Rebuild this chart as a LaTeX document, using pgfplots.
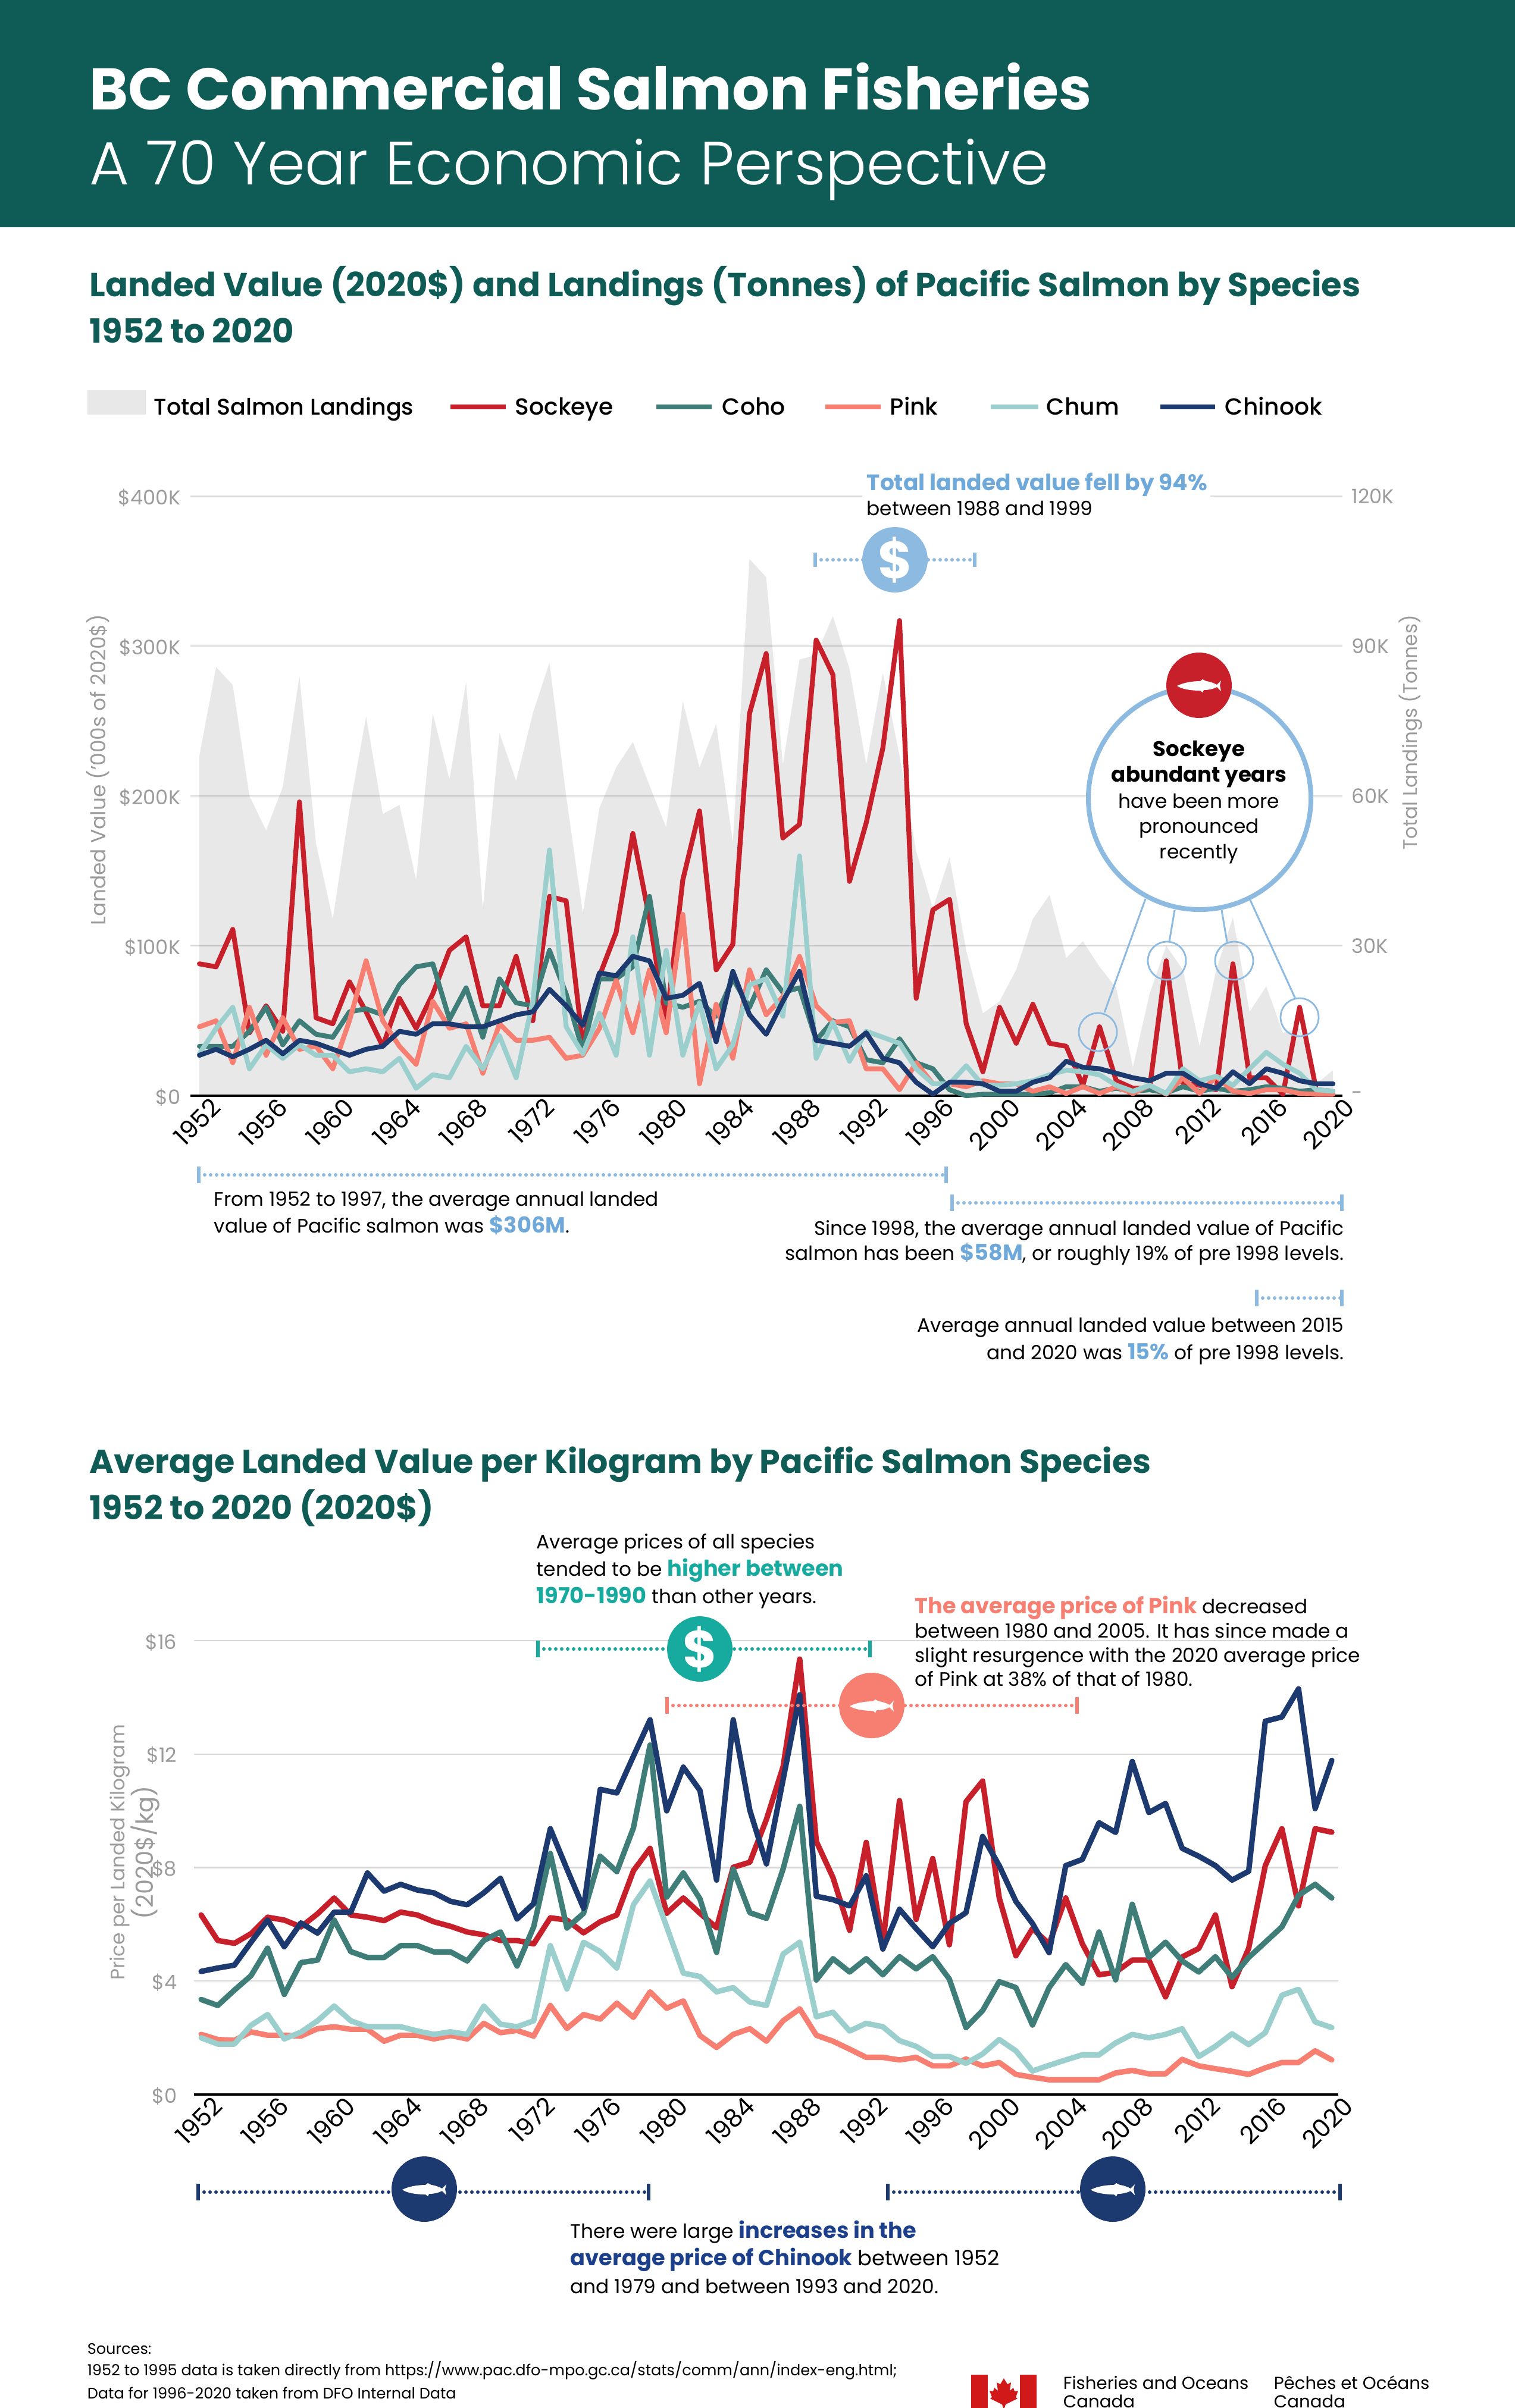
\documentclass[border=0pt]{standalone}
\usepackage{fontspec}
\usepackage{xcolor}
\usepackage{pgfplots}
\usepackage{pgfplotstable}
\pgfplotsset{compat=1.18}
\setmainfont{Poppins}
\newfontfamily\lightf{Poppins Light}
\newfontfamily\medf{Poppins Medium}
\definecolor{hdr}{HTML}{0F5C57}
\definecolor{sock}{HTML}{C8202A}
\definecolor{coho}{HTML}{3F7D78}
\definecolor{pink}{HTML}{F67F72}
\definecolor{chum}{HTML}{9ACFCE}
\definecolor{chin}{HTML}{1C3A70}
\definecolor{cblue}{HTML}{8DBAE0}
\definecolor{tblue}{HTML}{6FA9DA}
\definecolor{cteal}{HTML}{17AA9E}
\definecolor{tgray}{HTML}{9B9B9B}
\definecolor{ngray}{HTML}{1B3F8B}
\pgfplotstableread{
year sock coho pink chum chin total
1952 88 33 46 28 27 68100
1953 86 33 50 45 31 85800
1954 111 33 22 59 26 82200
1955 42 43 59 18 31 60000
1956 60 59 27 34 37 53100
1957 43 34 52 25 28 61800
1958 196 50 31 34 37 84000
1959 52 41 33 27 35 50400
1960 48 39 18 27 31 35400
1961 76 56 50 16 27 57300
1962 56 58 90 18 31 75900
1963 33 54 50 16 33 56400
1964 65 74 33 25 43 58200
1965 45 86 21 5 41 43200
1966 68 88 63 14 48 76500
1967 97 51 45 12 48 63300
1968 106 72 48 33 46 82800
1969 60 39 15 18 46 37500
1970 60 78 48 40 50 72600
1971 93 62 37 12 54 63000
1972 50 60 37 63 56 76500
1973 133 97 39 164 71 86700
1974 130 68 25 46 60 60000
1975 34 30 27 28 47 36600
1976 80 78 45 55 82 57600
1977 109 78 77 27 80 65700
1978 175 86 42 106 93 70800
1979 118 133 84 27 90 62100
1980 48 62 42 97 65 53700
1981 144 59 121 27 67 78900
1982 190 63 8 62 75 65700
1983 84 53 61 18 36 74400
1984 101 78 25 34 83 50700
1985 255 59 84 74 54 107400
1986 295 84 54 78 41 103800
1987 172 69 66 53 63 66300
1988 181 72 93 160 83 87300
1989 304 37 60 25 37 88200
1990 281 50 49 49 35 96000
1991 143 46 50 23 33 85500
1992 182 24 18 43 42 66300
1993 232 22 18 39 25 84600
1994 317 38 4 35 22 68100
1995 65 22 22 18 9 48900
1996 124 18 8 8 1 37500
1997 131 4 8 8 9 47700
1998 48 0 6 20 9 29100
1999 16 1 10 7 8 16500
2000 59 1 8 7 3 18900
2001 35 1 8 8 3 25200
2002 61 1 3 10 9 35400
2003 35 2 6 14 12 40200
2004 33 6 1.5 17 23 27600
2005 7 6 6 16 19 30900
2006 46 3 1.5 14 18 25800
2007 10 5 6 7 15 21600
2008 5 3 1.5 3 12 5700
2009 5 4 7 7 10 20400
2010 90 2 1 1.5 15 30000
2011 8 6 12 18 15 25200
2012 7 3 1.5 10 8 9900
2013 4 5 13 13 5 25200
2014 88 3 3 7 16 35700
2015 12 4 1.5 18 8 16800
2016 12 6 4 29 18 21900
2017 1 5 4 21 15 12600
2018 59 3 1.5 15 10 13500
2019 4 4 1 4 8 2400
2020 1 3 1 3 8 5100
}\tableA
\pgfplotstableread{
year sock coho pink chum chin
1952 6.33 3.35 2.12 2.00 4.34
1953 5.43 3.14 1.94 1.78 4.46
1954 5.33 3.68 1.91 1.78 4.56
1955 5.67 4.19 2.21 2.44 5.37
1956 6.25 5.16 2.09 2.82 6.15
1957 6.15 3.53 2.09 1.96 5.21
1958 5.91 4.65 2.06 2.20 6.05
1959 6.37 4.74 2.32 2.60 5.69
1960 6.93 6.15 2.39 3.12 6.43
1961 6.33 5.04 2.30 2.60 6.43
1962 6.25 4.83 2.30 2.39 7.81
1963 6.13 4.83 1.88 2.39 7.17
1964 6.43 5.25 2.09 2.39 7.41
1965 6.33 5.25 2.09 2.24 7.21
1966 6.09 5.03 1.96 2.12 7.11
1967 5.93 5.03 2.08 2.21 6.81
1968 5.73 4.71 1.96 2.12 6.69
1969 5.63 5.43 2.51 3.12 7.11
1970 5.43 5.73 2.18 2.48 7.62
1971 5.43 4.53 2.26 2.39 6.19
1972 5.31 5.91 2.06 2.60 6.73
1973 6.23 8.50 3.14 5.25 9.37
1974 6.15 5.87 2.33 3.72 7.95
1975 5.70 6.39 2.82 5.37 6.57
1976 6.09 8.40 2.66 5.04 10.76
1977 6.33 7.86 3.22 4.46 10.63
1978 7.89 9.40 2.72 6.69 11.93
1979 8.68 12.32 3.62 7.53 13.21
1980 6.39 6.96 3.04 5.91 10.00
1981 6.93 7.81 3.30 4.28 11.54
1982 6.39 6.90 2.08 4.16 10.72
1983 5.88 5.01 1.66 3.62 7.56
1984 8.01 7.95 2.12 3.77 13.21
1985 8.19 6.41 2.32 3.26 10.02
1986 9.70 6.21 1.88 3.14 8.13
1987 11.56 7.95 2.60 4.95 11.10
1988 15.35 10.16 3.02 5.37 14.09
1989 8.92 4.04 2.09 2.74 6.99
1990 7.65 4.79 1.88 2.90 6.87
1991 5.79 4.32 1.60 2.24 6.65
1992 8.89 4.79 1.31 2.51 7.71
1993 5.31 4.22 1.31 2.39 5.13
1994 10.36 4.86 1.22 1.90 6.53
1995 6.17 4.43 1.31 1.70 5.85
1996 8.32 4.86 1.01 1.34 5.21
1997 5.28 4.07 1.01 1.34 6.03
1998 10.32 2.36 1.25 1.10 6.41
1999 11.05 2.96 1.01 1.43 9.10
2000 6.93 3.98 1.13 1.94 8.07
2001 4.89 3.77 0.71 1.54 6.81
2002 5.85 2.45 0.61 0.83 6.03
2003 5.31 3.77 0.52 1.03 5.00
2004 6.93 4.58 0.52 1.22 8.07
2005 5.31 3.92 0.52 1.40 8.29
2006 4.22 5.73 0.52 1.40 9.58
2007 4.31 4.04 0.76 1.82 9.24
2008 4.74 6.71 0.85 2.12 11.74
2009 4.74 4.83 0.73 2.00 9.94
2010 3.44 5.37 0.73 2.12 10.26
2011 4.85 4.71 1.24 2.32 8.68
2012 5.15 4.32 1.01 1.34 8.40
2013 6.33 4.86 0.91 1.70 8.07
2014 3.80 4.13 0.82 2.14 7.56
2015 5.15 4.83 0.71 1.76 7.87
2016 8.07 5.37 0.94 2.18 13.16
2017 9.37 5.91 1.13 3.50 13.31
2018 6.65 7.02 1.13 3.71 14.30
2019 9.37 7.41 1.54 2.56 10.08
2020 9.25 6.93 1.22 2.36 11.78
}\tableB
\pgfplotsset{
 base/.style={scale only axis, clip=false, tick style={draw=none},
   major tick length=0pt, scaled y ticks=false, every axis plot/.append style={no markers}},
 yrs/.style={xtick={1952,1956,...,2020},
   xticklabels={1952,1956,1960,1964,1968,1972,1976,1980,1984,1988,1992,1996,2000,2004,2008,2012,2016,2020},
   xticklabel style={font=\fontsize{10.4}{12}\selectfont, rotate=45, anchor=north east, inner sep=0pt, xshift=3pt, yshift=-3pt},
   x axis line style={black,line width=0.85pt},
   axis x line*=bottom, axis y line*=left, y axis line style={draw=none},
   yticklabel style={font=\fontsize{8.4}{10}\selectfont, text=tgray, inner sep=0pt, anchor=east, xshift=-4pt, yshift=-0.6pt}},
 ln/.style={line width=#1, line join=round, line cap=round},
}
\newcommand\fish[3]{\begin{scope}[shift={(#1,#2)}]\fill[#3]
 (-37,1) .. controls (-25,-5) and (-10,-7) .. (2,-7) -- (6,-10) -- (12,-7) .. controls (20,-6) and (26,-3) .. (30,-1) -- (37,-8) -- (35,0) -- (37,10) -- (30,3) .. controls (22,7) and (14,8) .. (8,8) -- (6,12) -- (2,9) .. controls (-15,9) and (-30,6) .. (-37,1) -- cycle;\end{scope}}
\newcommand\br[5]{\draw[#5,line width=1.5pt,line cap=round,dash pattern=on 0pt off 2.5pt] (#1,#3) -- (#2,#3);
 \draw[#5,line width=1.6pt] (#1,#3-#4) -- (#1,#3+#4); \draw[#5,line width=1.6pt] (#2,#3-#4) -- (#2,#3+#4);}
\newcommand\tl[3]{\node[anchor=base west,inner sep=0pt] at (#1,#2) {\bodyf #3};}
\newcommand\tr[3]{\node[anchor=base east,inner sep=0pt] at (#1,#2) {\bodyf #3};}
\newcommand\bodyf{\fontsize{8.2}{10}\selectfont}
\newcommand\bb[2]{{\fontsize{9.2}{10}\selectfont\bfseries\color{#1}#2}}
\begin{document}
\begin{tikzpicture}
\path[use as bounding box] (0,0) rectangle (636.5pt,-1012pt);
\begin{scope}[x=0.25pt,y=-0.25pt]
\fill[hdr] (0,0) rectangle (2546,382);
\node[anchor=base west,inner sep=0pt,white] at (150,184) {\fontsize{24.7}{28}\selectfont\bfseries BC Commercial Salmon Fisheries};
\node[anchor=base west,inner sep=0pt,white] at (150,310) {\fontsize{25.6}{28}\selectfont\lightf A 70 Year Economic Perspective};
\node[anchor=base west,inner sep=0pt,hdr] at (150,498) {\fontsize{14}{16}\selectfont\bfseries Landed Value (2020\$) and Landings (Tonnes) of Pacific Salmon by Species};
\node[anchor=base west,inner sep=0pt,hdr] at (150,576) {\fontsize{14}{16}\selectfont\bfseries 1952 to 2020};
\node[anchor=base west,inner sep=0pt,hdr] at (150,2476) {\fontsize{13.9}{16}\selectfont\bfseries Average Landed Value per Kilogram by Pacific Salmon Species};
\node[anchor=base west,inner sep=0pt,hdr] at (150,2554) {\fontsize{13.9}{16}\selectfont\bfseries 1952 to 2020 (2020\$)};
% legend
\fill[black,opacity=0.09] (147,656) rectangle (245,697);
\foreach \a/\b/\c in {757/850/sock,1103/1196/coho,1387/1480/pink,1665/1745/chum,1950/2042/chin}
  \draw[\c,line width=2pt] (\a,684) -- (\b,684);
\foreach \a/\t in {865/Sockeye,1213/Coho,1495/Pink,1758/Chum,2058/Chinook}
  \node[anchor=base west,inner sep=0pt] at (\a,697) {\fontsize{9.8}{12}\selectfont\medf \t};
\node[anchor=base west,inner sep=0pt] at (258,697) {\fontsize{9.5}{12}\selectfont\medf Total Salmon Landings};
\end{scope}
% chart 1: area with right axis
\begin{axis}[base, at={(80pt,-460.5pt)}, anchor=south west, width=484pt, height=252pt,
  xmin=1951.46, xmax=2020.57, ymin=0, ymax=120000, hide x axis,
  axis y line*=right, y axis line style={draw=none},
  ytick={0,30000,60000,90000,120000}, yticklabels={-,30K,60K,90K,120K},
  yticklabel style={font=\fontsize{8.4}{10}\selectfont, text=tgray, inner sep=0pt, anchor=west, xshift=3.75pt},
  ymajorgrids, grid style={draw=black!15, line width=0.6pt}]
\addplot[fill=black, fill opacity=0.09, draw=none] table[x=year,y=total]{\tableA} \closedcycle;
\end{axis}
\begin{scope}[x=0.25pt,y=-0.25pt]
\fill[white] (1449,826) rectangle (2034,842);
\end{scope}
\begin{axis}[base, yrs, at={(80pt,-460.5pt)}, anchor=south west, width=484pt, height=252pt,
  xmin=1951.46, xmax=2020.57, ymin=0, ymax=400,
  ytick={0,100,200,300,400}, yticklabels={\$0,\$100K,\$200K,\$300K,\$400K}]
\addplot[sock,ln=2.05pt] table[x=year,y=sock]{\tableA};
\addplot[coho,ln=2.05pt] table[x=year,y=coho]{\tableA};
\addplot[pink,ln=2.05pt] table[x=year,y=pink]{\tableA};
\addplot[chum,ln=2.05pt] table[x=year,y=chum]{\tableA};
\addplot[chin,ln=2.05pt] table[x=year,y=chin]{\tableA};
\end{axis}
\begin{scope}[x=0.25pt,y=-0.25pt]
\node[rotate=90,text=tgray,inner sep=0pt] at (165,1294) {\fontsize{8.6}{10}\selectfont Landed Value ('000s of 2020\$)};
\node[rotate=90,text=tgray,inner sep=0pt] at (2371,1231) {\fontsize{8.2}{10}\selectfont Total Landings (Tonnes)};
\node[anchor=base west,inner sep=0pt,text=tblue] at (1456,824) {\fontsize{9.4}{10}\selectfont\bfseries Total landed value fell by 94\%};
\tl{1456}{866}{between 1988 and 1999}
\br{1370}{1638}{941}{12}{cblue}
\fill[cblue] (1504,941) circle (55);
\node[white,inner sep=0pt] at (1504,941) {\fontsize{22}{24}\selectfont\bfseries \$};
% callout
\draw[cblue,line width=0.75pt] (1925,1511) -- (1856,1702) (1974,1530) -- (1965,1583) (2053,1530) -- (2062,1583) (2101,1513) -- (2177,1679);
\foreach \a/\b in {1845/1735,1961/1615,2074/1615,2184/1710} \draw[cblue,line width=0.7pt] (\a,\b) circle (32);
\draw[cblue,fill=white,line width=2pt] (2016,1342) circle (187);
\fill[sock] (2015,1152) circle (55);
\fish{2015}{1152}{white}
\node[anchor=base,inner sep=0pt] at (2015,1271) {\fontsize{8.9}{10}\selectfont\bfseries Sockeye};
\node[anchor=base,inner sep=0pt] at (2015,1314) {\fontsize{8.9}{10}\selectfont\bfseries abundant years};
\node[anchor=base,inner sep=0pt] at (2015,1358) {\bodyf have been more};
\node[anchor=base,inner sep=0pt] at (2015,1400) {\bodyf pronounced};
\node[anchor=base,inner sep=0pt] at (2015,1443) {\bodyf recently};
% below chart 1
\br{334}{1590}{1975}{14}{cblue}
\br{1600}{2255}{2022}{14}{cblue}
\br{2112}{2255}{2182}{14}{cblue}
\tl{359}{2027}{From 1952 to 1997, the average annual landed}
\tl{359}{2072}{value of Pacific salmon was \bb{tblue}{\$306M}.}
\tr{2259}{2076}{Since 1998, the average annual landed value of Pacific}
\tr{2259}{2118}{salmon has been \bb{tblue}{\$58M}, or roughly 19\% of pre 1998 levels.}
\tr{2259}{2239}{Average annual landed value between 2015}
\tr{2259}{2285}{and 2020 was \bb{tblue}{15\%} of pre 1998 levels.}
\end{scope}
% chart 2
\begin{axis}[base, yrs, at={(81.5pt,-880.25pt)}, anchor=south west, width=480.75pt, height=190.75pt,
  xmin=1951.57, xmax=2020.39, ymin=0, ymax=16,
  ymajorgrids, grid style={draw=black!15, line width=0.6pt},
  ytick={0,4,8,12,16}, yticklabels={\$0,\$4,\$8,\$12,\$16},
  yticklabel style={xshift=-3pt}]
\addplot[sock,ln=2.3pt] table[x=year,y=sock]{\tableB};
\addplot[coho,ln=2.3pt] table[x=year,y=coho]{\tableB};
\addplot[pink,ln=2.3pt] table[x=year,y=pink]{\tableB};
\addplot[chum,ln=2.3pt] table[x=year,y=chum]{\tableB};
\addplot[chin,ln=2.3pt] table[x=year,y=chin]{\tableB};
\end{axis}
\begin{scope}[x=0.25pt,y=-0.25pt]
\node[rotate=90,text=tgray,inner sep=0pt,align=center] at (226,3114) {\fontsize{8.2}{10.5}\selectfont Price per Landed Kilogram\\(2020\$/kg)};
\tl{901}{2603}{Average prices of all species}
\tl{901}{2649}{tended to be \bb{cteal}{higher between}}
\tl{901}{2695}{\bb{cteal}{1970-1990} than other years.}
\br{904}{1462}{2772}{14}{cteal}
\fill[cteal] (1176,2772) circle (55);
\node[white,inner sep=0pt] at (1176,2772) {\fontsize{22}{24}\selectfont\bfseries \$};
\br{1121}{1810}{2867}{14}{pink}
\fill[pink] (1465,2867) circle (55);
\fish{1465}{2867}{white}
\tl{1537}{2712}{\bb{pink}{The average price of Pink} decreased}
\tl{1537}{2753}{between 1980 and 2005. It has since made a}
\tl{1537}{2794}{slight resurgence with the 2020 average price}
\tl{1537}{2834}{of Pink at 38\% of that of 1980.}
\br{333}{1090}{3685}{14}{chin}
\br{1492}{2252}{3685}{14}{chin}
\fill[chin] (713,3680) circle (55);
\fish{713}{3680}{white}
\fill[chin] (1870,3680) circle (55);
\fish{1870}{3680}{white}
\tl{958}{3762}{There were large \bb{ngray}{increases in the}}
\tl{958}{3808}{\bb{ngray}{average price of Chinook} {\fontsize{8.8}{10}\selectfont between 1952}}
\tl{958}{3855}{and 1979 and between 1993 and 2020.}
\node[anchor=base west,inner sep=0pt] at (146,3957) {\fontsize{6.4}{8}\selectfont Sources:};
\node[anchor=base west,inner sep=0pt] at (146,3993) {\fontsize{6.4}{8}\selectfont 1952 to 1995 data is taken directly from https://www.pac.dfo-mpo.gc.ca/stats/comm/ann/index-eng.html;};
\node[anchor=base west,inner sep=0pt] at (146,4032) {\fontsize{6.4}{8}\selectfont Data for 1996-2020 taken from DFO Internal Data};
% wordmark
\fill[red!80!black!90] (1632,3992) rectangle (1660,4048);
\fill[red!80!black!90] (1714,3992) rectangle (1742,4048);
\fill[red!80!black!90] (1687,3998) -- (1693,4008) -- (1699,4005) -- (1697,4019) -- (1703,4014) -- (1705,4020) -- (1711,4019) -- (1707,4030) -- (1710,4032) -- (1690,4042) -- (1688,4048) -- (1686,4048) -- (1684,4042) -- (1664,4032) -- (1667,4030) -- (1663,4019) -- (1669,4020) -- (1671,4014) -- (1677,4019) -- (1675,4005) -- (1681,4008) -- cycle;
\begin{scope}
\clip (0,0) rectangle (2546,4048);
\foreach \x/\y/\t in {1786/4016/Fisheries and Oceans,1786/4047/Canada,2140/4016/Pêches et Océans,2140/4047/Canada}
 \node[anchor=base west,inner sep=0pt] at (\x,\y) {\fontsize{7.3}{9}\selectfont \t};
\end{scope}
\end{scope}
\end{tikzpicture}
\end{document}
